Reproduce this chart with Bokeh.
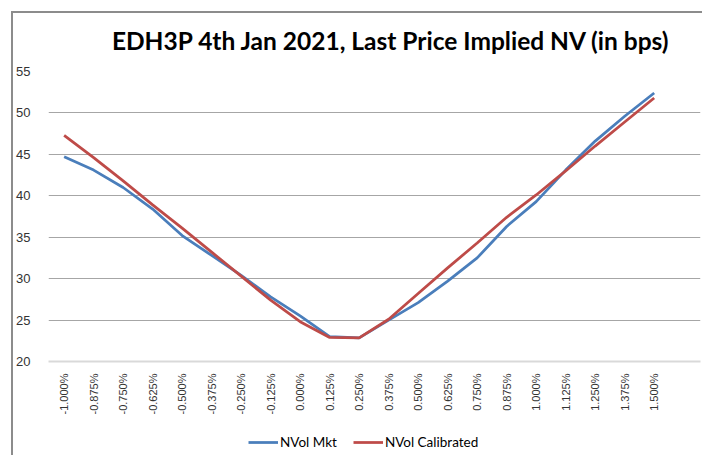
from bokeh.plotting import figure
from bokeh.models import FixedTicker, Legend, LegendItem, Range1d, Label
from bokeh.layouts import column
from bokeh.embed import file_html
from bokeh.resources import INLINE
import math

title_text = "EDH3P 4th Jan 2021, Last Price Implied NV (in bps)"
categories = ["-1.000%", "-0.875%", "-0.750%", "-0.625%", "-0.500%", "-0.375%", "-0.250%",
              "-0.125%", "0.000%", "0.125%", "0.250%", "0.375%", "0.500%", "0.625%",
              "0.750%", "0.875%", "1.000%", "1.125%", "1.250%", "1.375%", "1.500%"]
nvol_mkt = [44.7, 43.1, 41.0, 38.4, 35.2, 32.8, 30.4, 27.8, 25.5, 23.0, 22.85,
            25.0, 27.1, 29.7, 32.5, 36.3, 39.3, 43.1, 46.6, 49.6, 52.4]
nvol_cal = [47.3, 44.6, 41.8, 38.9, 36.1, 33.2, 30.3, 27.4, 24.8, 22.9, 22.85,
            25.1, 28.2, 31.3, 34.3, 37.4, 40.1, 43.0, 46.0, 48.9, 51.8]
y_ticks = [20, 25, 30, 35, 40, 45, 50, 55]
series_names = ["NVol Mkt", "NVol Calibrated"]
series_colors = ["#4a7ebb", "#be4b48"]

xs = list(range(len(categories)))

# title strip
t = figure(width=689, height=48, output_backend="svg", toolbar_location=None,
           x_range=Range1d(0, 689), y_range=Range1d(0, 48),
           min_border=0, background_fill_color="white", border_fill_color="white")
t.outline_line_color = None
t.axis.visible = False
t.grid.visible = False
t.add_layout(Label(x=67, y=21, text=title_text, text_font="Lato", text_font_style="bold",
                   text_font_size="24.5px", text_color="#000000",
                   text_align="left", text_baseline="middle"))

p = figure(width=689, height=364, output_backend="svg", toolbar_location=None,
           x_range=Range1d(-0.53, 21.57), y_range=Range1d(y_ticks[0], y_ticks[-1]),
           min_border_left=35, min_border_right=2, min_border_top=10, min_border_bottom=64,
           background_fill_color="white", border_fill_color="white")
p.outline_line_color = None

# y axis
p.yaxis.ticker = FixedTicker(ticks=y_ticks)
p.yaxis.axis_line_color = None
p.yaxis.major_tick_line_color = None
p.yaxis.minor_tick_line_color = None
p.yaxis.major_label_text_font = "Liberation Sans"
p.yaxis.major_label_text_font_size = "13px"
p.yaxis.major_label_text_color = "#333333"
p.yaxis.major_label_standoff = 12

# x axis
p.xaxis.ticker = FixedTicker(ticks=xs)
p.xaxis.major_label_overrides = {i: c for i, c in zip(xs, categories)}
p.xaxis.major_label_orientation = math.pi / 2
p.xaxis.axis_line_color = "#d9d9d9"
p.xaxis.axis_line_width = 2
p.xaxis.major_tick_line_color = None
p.xaxis.minor_tick_line_color = None
p.xaxis.major_label_text_font = "Liberation Sans"
p.xaxis.major_label_text_font_size = "11px"
p.xaxis.major_label_text_color = "#333333"
p.xaxis.major_label_standoff = 6

p.xgrid.grid_line_color = None
p.ygrid.grid_line_color = "#a6a6a6"
p.ygrid.grid_line_width = 1

p.line(xs, nvol_mkt, line_color=series_colors[0], line_width=2.75)
p.line(xs, nvol_cal, line_color=series_colors[1], line_width=2.75)

# legend strip (its own small figure below the chart)
q = figure(width=689, height=30, output_backend="svg", toolbar_location=None,
           x_range=Range1d(1000, 1001), y_range=Range1d(1000, 1001),
           min_border=0, background_fill_color="white", border_fill_color="white")
q.outline_line_color = None
q.axis.visible = False
q.grid.visible = False
l1 = q.line(xs, nvol_mkt, line_color=series_colors[0], line_width=2.75)
l2 = q.line(xs, nvol_cal, line_color=series_colors[1], line_width=2.75)

legend = Legend(items=[LegendItem(label=series_names[0], renderers=[l1]),
                       LegendItem(label=series_names[1], renderers=[l2])],
                orientation="horizontal", location=(200, 3))
legend.border_line_color = None
legend.background_fill_alpha = 0
legend.label_text_font = "Lato"
legend.label_text_font_size = "13.5px"
legend.label_text_color = "#000000"
legend.glyph_width = 30
legend.label_standoff = 2
legend.spacing = 16
legend.padding = 4
legend.margin = 0
q.add_layout(legend, "center")

page = column(t, p, q, spacing=0)
page.margin = (11, 0, 0, 11)
page.styles = {"border-left": "2px solid #8c8c8c", "border-top": "2px solid #8c8c8c"}

open("out.html", "w").write(file_html(page, INLINE))
